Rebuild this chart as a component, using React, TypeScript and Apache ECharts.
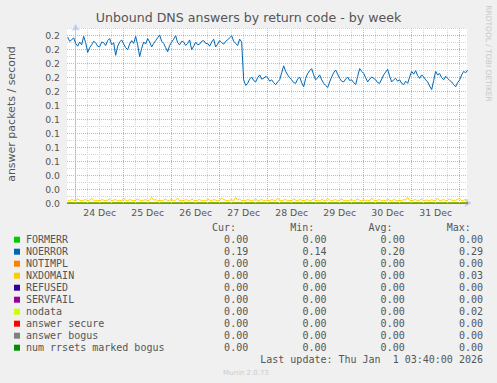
import React, { useEffect, useRef } from 'react';
import * as echarts from 'echarts';

const TITLE = 'Unbound DNS answers by return code - by week';
const Y_NAME = 'answer packets / second';
const WATERMARK = 'RRDTOOL / TOBI OETIKER';
const FOOTER = 'Munin 2.0.73';
const LAST_UPDATE = 'Last update: Thu Jan \u00a01 03:40:00 2026';

// hours relative to 24 Dec 00:00
const xMin = -4 - 1 / 3;
const xMax = 195 + 2 / 3;
const dayLabels = ['24 Dec', '25 Dec', '26 Dec', '27 Dec', '28 Dec', '29 Dec', '30 Dec', '31 Dec'];
const dayLabelHours = [12, 36, 60, 84, 108, 132, 156, 180];
const yTickLabels = ['0.0', '0.0', '0.0', '0.1', '0.1', '0.1', '0.1', '0.1', '0.2', '0.2', '0.2', '0.2', '0.2'];

const sampleStartHour = -4;
const sampleStepHours = 1;

const noerror = [
  0.237, 0.231, 0.233, 0.236, 0.228, 0.224, 0.230, 0.226, 0.238, 0.229,
  0.215, 0.222, 0.226, 0.231, 0.229, 0.224, 0.223, 0.230, 0.229, 0.225,
  0.232, 0.235, 0.226, 0.229, 0.211, 0.224, 0.230, 0.233, 0.227, 0.222,
  0.219, 0.227, 0.232, 0.228, 0.238, 0.226, 0.209, 0.221, 0.230, 0.227,
  0.235, 0.230, 0.223, 0.228, 0.232, 0.236, 0.240, 0.231, 0.228, 0.222,
  0.216, 0.225, 0.230, 0.234, 0.239, 0.229, 0.226, 0.231, 0.230, 0.225,
  0.228, 0.233, 0.219, 0.224, 0.230, 0.226, 0.227, 0.231, 0.232, 0.228,
  0.228, 0.224, 0.230, 0.234, 0.223, 0.227, 0.232, 0.229, 0.227, 0.231,
  0.233, 0.236, 0.239, 0.231, 0.228, 0.225, 0.234, 0.230, 0.176, 0.168,
  0.171, 0.177, 0.180, 0.175, 0.173, 0.179, 0.183, 0.177, 0.178, 0.181,
  0.179, 0.174, 0.176, 0.172, 0.169, 0.173, 0.176, 0.186, 0.196, 0.188,
  0.183, 0.179, 0.176, 0.172, 0.171, 0.177, 0.180, 0.172, 0.166, 0.178,
  0.185, 0.189, 0.192, 0.183, 0.176, 0.179, 0.183, 0.176, 0.171, 0.168,
  0.165, 0.173, 0.180, 0.186, 0.190, 0.184, 0.178, 0.174, 0.173, 0.177,
  0.180, 0.175, 0.176, 0.172, 0.169, 0.181, 0.192, 0.188, 0.185, 0.179,
  0.173, 0.177, 0.180, 0.178, 0.176, 0.172, 0.171, 0.177, 0.183, 0.187,
  0.191, 0.181, 0.173, 0.176, 0.178, 0.174, 0.176, 0.171, 0.169, 0.174,
  0.171, 0.180, 0.188, 0.184, 0.189, 0.182, 0.178, 0.183, 0.180, 0.176,
  0.173, 0.167, 0.162, 0.175, 0.188, 0.183, 0.185, 0.179, 0.176, 0.181,
  0.178, 0.175, 0.173, 0.169, 0.166, 0.172, 0.176, 0.183, 0.188, 0.186,
  0.190,
];

const nxdomain = [
  0.004, 0.003, 0.005, 0.004, 0.003, 0.006, 0.004, 0.003, 0.004, 0.005,
  0.003, 0.004, 0.007, 0.004, 0.003, 0.004, 0.003, 0.005, 0.004, 0.003,
  0.004, 0.006, 0.003, 0.004, 0.005, 0.003, 0.004, 0.003, 0.007, 0.004,
  0.003, 0.005, 0.004, 0.003, 0.004, 0.006, 0.004, 0.003, 0.004, 0.005,
  0.003, 0.004, 0.008, 0.004, 0.005, 0.003, 0.004, 0.003, 0.004, 0.006,
  0.003, 0.004, 0.005, 0.003, 0.004, 0.007, 0.003, 0.004, 0.003, 0.005,
  0.004, 0.003, 0.006, 0.004, 0.003, 0.004, 0.005, 0.003, 0.004, 0.003,
  0.006, 0.004, 0.003, 0.005, 0.004, 0.003, 0.004, 0.007, 0.005, 0.004,
  0.003, 0.004, 0.005, 0.003, 0.008, 0.004, 0.006, 0.003, 0.004, 0.003,
  0.005, 0.004, 0.003, 0.004, 0.006, 0.003, 0.004, 0.005, 0.003, 0.004,
  0.004, 0.003, 0.005, 0.004, 0.003, 0.007, 0.004, 0.003, 0.004, 0.005,
  0.003, 0.004, 0.003, 0.006, 0.004, 0.003, 0.005, 0.004, 0.003, 0.004,
  0.005, 0.003, 0.004, 0.006, 0.003, 0.004, 0.003, 0.005, 0.004, 0.003,
  0.007, 0.004, 0.003, 0.004, 0.005, 0.003, 0.004, 0.006, 0.003, 0.004,
  0.003, 0.004, 0.005, 0.003, 0.004, 0.006, 0.004, 0.003, 0.005, 0.003,
  0.004, 0.003, 0.007, 0.004, 0.003, 0.004, 0.005, 0.003, 0.004, 0.003,
  0.006, 0.004, 0.003, 0.005, 0.004, 0.003, 0.004, 0.003, 0.005, 0.004,
  0.008, 0.004, 0.003, 0.004, 0.005, 0.003, 0.004, 0.006, 0.003, 0.004,
  0.004, 0.003, 0.005, 0.003, 0.004, 0.007, 0.003, 0.004, 0.005, 0.003,
  0.004, 0.006, 0.004, 0.003, 0.004, 0.005, 0.007, 0.003, 0.004, 0.005,
  0.004,
];

const flatZero = [0, 0];

const legendNames = ['FORMERR', 'NOERROR', 'NOTIMPL', 'NXDOMAIN', 'REFUSED', 'SERVFAIL', 'nodata', 'answer secure', 'answer bogus', 'num rrsets marked bogus'];
const legendColors = ['#00cc00', '#0066b3', '#ff8000', '#ffcc00', '#330099', '#990099', '#ccff00', '#ff0000', '#808080', '#008f00'];
const curVals = ['0.00', '0.19', '0.00', '0.00', '0.00', '0.00', '0.00', '0.00', '0.00', '0.00'];
const minVals = ['0.00', '0.14', '0.00', '0.00', '0.00', '0.00', '0.00', '0.00', '0.00', '0.00'];
const avgVals = ['0.00', '0.20', '0.00', '0.00', '0.00', '0.00', '0.00', '0.00', '0.00', '0.00'];
const maxVals = ['0.00', '0.29', '0.00', '0.03', '0.00', '0.00', '0.02', '0.00', '0.00', '0.00'];
const columnHeaders = ['Cur:', 'Min:', 'Avg:', 'Max:'];

const RED_GRID = '#eea4a4';
const GRAY_GRID = '#d4d4d4';
const TEXT = '#555555';
const AXIS = '#c4cbf2';

export default function App() {
  const ref = useRef<HTMLDivElement>(null);
  useEffect(() => {
    if (!ref.current) return;
    const chart = echarts.init(ref.current, undefined, { renderer: 'svg' });

    const toPairs = (vals: number[]) => vals.map((v, i) => [sampleStartHour + i * sampleStepHours, v]);
    const lastHour = sampleStartHour + (noerror.length - 1) * sampleStepHours;
    const flatPairs = (vals: number[]) => [[sampleStartHour, vals[0]], [lastHour, vals[1]]];

    // vertical grid lines every 6 hours (red at midnight)
    const vLines: any[] = [];
    for (let h = Math.ceil(xMin / 6) * 6; h <= xMax; h += 6) {
      vLines.push({
        xAxis: h,
        lineStyle: { color: h % 24 === 0 ? RED_GRID : GRAY_GRID, type: [1, 1], width: 1 },
      });
    }

    const seriesData: Record<string, number[][]> = {
      FORMERR: flatPairs(flatZero),
      NOERROR: toPairs(noerror),
      NOTIMPL: flatPairs(flatZero),
      NXDOMAIN: toPairs(nxdomain),
      REFUSED: flatPairs(flatZero),
      SERVFAIL: flatPairs(flatZero),
      nodata: flatPairs(flatZero),
      'answer secure': flatPairs(flatZero),
      'answer bogus': flatPairs(flatZero),
      'num rrsets marked bogus': flatPairs(flatZero),
    };
    const zOrder: Record<string, number> = {
      FORMERR: 2, NOERROR: 6, NOTIMPL: 2, NXDOMAIN: 5, REFUSED: 2, SERVFAIL: 2,
      nodata: 7, 'answer secure': 2, 'answer bogus': 2, 'num rrsets marked bogus': 3,
    };

    const series: any[] = legendNames.map((name, i) => ({
      name,
      type: 'line',
      data: seriesData[name],
      showSymbol: false,
      symbol: 'none',
      lineStyle: { color: legendColors[i], width: 1 },
      itemStyle: { color: legendColors[i] },
      z: zOrder[name],
      clip: true,
    }));
    series.push({
      name: 'grid',
      type: 'line',
      data: [[xMin, null]],
      showSymbol: false,
      z: 1,
      silent: true,
      markLine: {
        silent: true,
        symbol: ['none', 'none'],
        label: { show: false },
        data: vLines,
        animation: false,
      },
    });

    const legendGraphics: any[] = [];
    const rowY0 = 239.7;
    const rowH = 12;
    const valueRight = [248.2, 326.5, 404.7, 483];
    const mono = 'DejaVu Sans Mono';
    columnHeaders.forEach((h, c) => {
      legendGraphics.push({
        type: 'text', x: valueRight[c] - 12.2, y: 227.7,
        style: { text: h, font: `10px ${mono}`, fill: TEXT, align: 'right', verticalAlign: 'middle' },
      });
    });
    legendNames.forEach((name, i) => {
      const y = rowY0 + i * rowH;
      legendGraphics.push({ type: 'rect', shape: { x: 14, y: y - 3, width: 6, height: 6 }, style: { fill: legendColors[i] } });
      legendGraphics.push({
        type: 'text', x: 26, y,
        style: { text: name, font: `10px ${mono}`, fill: TEXT, align: 'left', verticalAlign: 'middle' },
      });
      [curVals, minVals, avgVals, maxVals].forEach((col, c) => {
        legendGraphics.push({
          type: 'text', x: valueRight[c], y,
          style: { text: col[i], font: `10px ${mono}`, fill: TEXT, align: 'right', verticalAlign: 'middle' },
        });
      });
    });
    legendGraphics.push({
      type: 'text', x: 483, y: 359.5,
      style: { text: LAST_UPDATE, font: `10px ${mono}`, fill: TEXT, align: 'right', verticalAlign: 'middle' },
    });

    chart.setOption({
      animation: false,
      backgroundColor: '#f0f0f0',
      title: {
        text: TITLE,
        left: 'center',
        top: 11,
        padding: 0,
        textStyle: { fontFamily: 'DejaVu Sans', fontSize: 12.6, fontWeight: 'normal', color: TEXT },
      },
      grid: {
        left: 67, top: 28, width: 400, height: 175,
        show: true, backgroundColor: '#ffffff', borderWidth: 0,
        containLabel: false,
      },
      xAxis: {
        type: 'value',
        min: xMin,
        max: xMax,
        axisLine: {
          show: true, onZero: false,
          lineStyle: { color: AXIS, width: 1 },
          symbol: ['none', 'arrow'], symbolSize: [6, 7], symbolOffset: [0, 4.5],
        },
        axisTick: { show: false },
        splitLine: { show: false },
        axisLabel: {
          customValues: dayLabelHours,
          formatter: (v: number) => {
            const k = dayLabelHours.indexOf(Math.round(v));
            return k >= 0 ? dayLabels[k] : '';
          },
          color: TEXT, fontFamily: 'DejaVu Sans', fontSize: 9.3, margin: 5,
        },
      },
      yAxis: {
        type: 'value',
        min: 0,
        max: 0.25,
        interval: 0.01,
        axisLine: {
          show: true,
          lineStyle: { color: AXIS, width: 1 },
          symbol: ['none', 'arrow'], symbolSize: [6, 7], symbolOffset: [0, 4],
        },
        axisTick: { show: false },
        splitLine: { show: true, lineStyle: { color: [RED_GRID, GRAY_GRID], type: [1, 1], width: 1 } },
        axisLabel: {
          formatter: (_v: number, idx: number) => (idx % 2 === 0 ? yTickLabels[idx / 2] ?? '' : ''),
          color: TEXT, fontFamily: 'DejaVu Sans', fontSize: 9.3, margin: 7,
        },
      },
      series,
      graphic: [
        {
          type: 'text', x: 11, y: 114, rotation: Math.PI / 2,
          style: { text: Y_NAME, font: '11px DejaVu Sans', fill: TEXT, align: 'center', verticalAlign: 'middle' },
        },
        {
          type: 'text', x: 488.5, y: 53.5, rotation: -Math.PI / 2,
          style: { text: WATERMARK, font: '7.5px DejaVu Sans', fill: '#c8c8c8', align: 'center', verticalAlign: 'middle' },
        },
        {
          type: 'text', x: 223, y: 372.7,
          style: { text: FOOTER, font: '7px DejaVu Sans', fill: '#cccccc', align: 'left', verticalAlign: 'middle' },
        },
        ...legendGraphics,
      ],
    });
    return () => chart.dispose();
  }, []);
  return <div ref={ref} style={{ position: 'fixed', left: 0, top: 0, width: 497, height: 383 }} />;
}
